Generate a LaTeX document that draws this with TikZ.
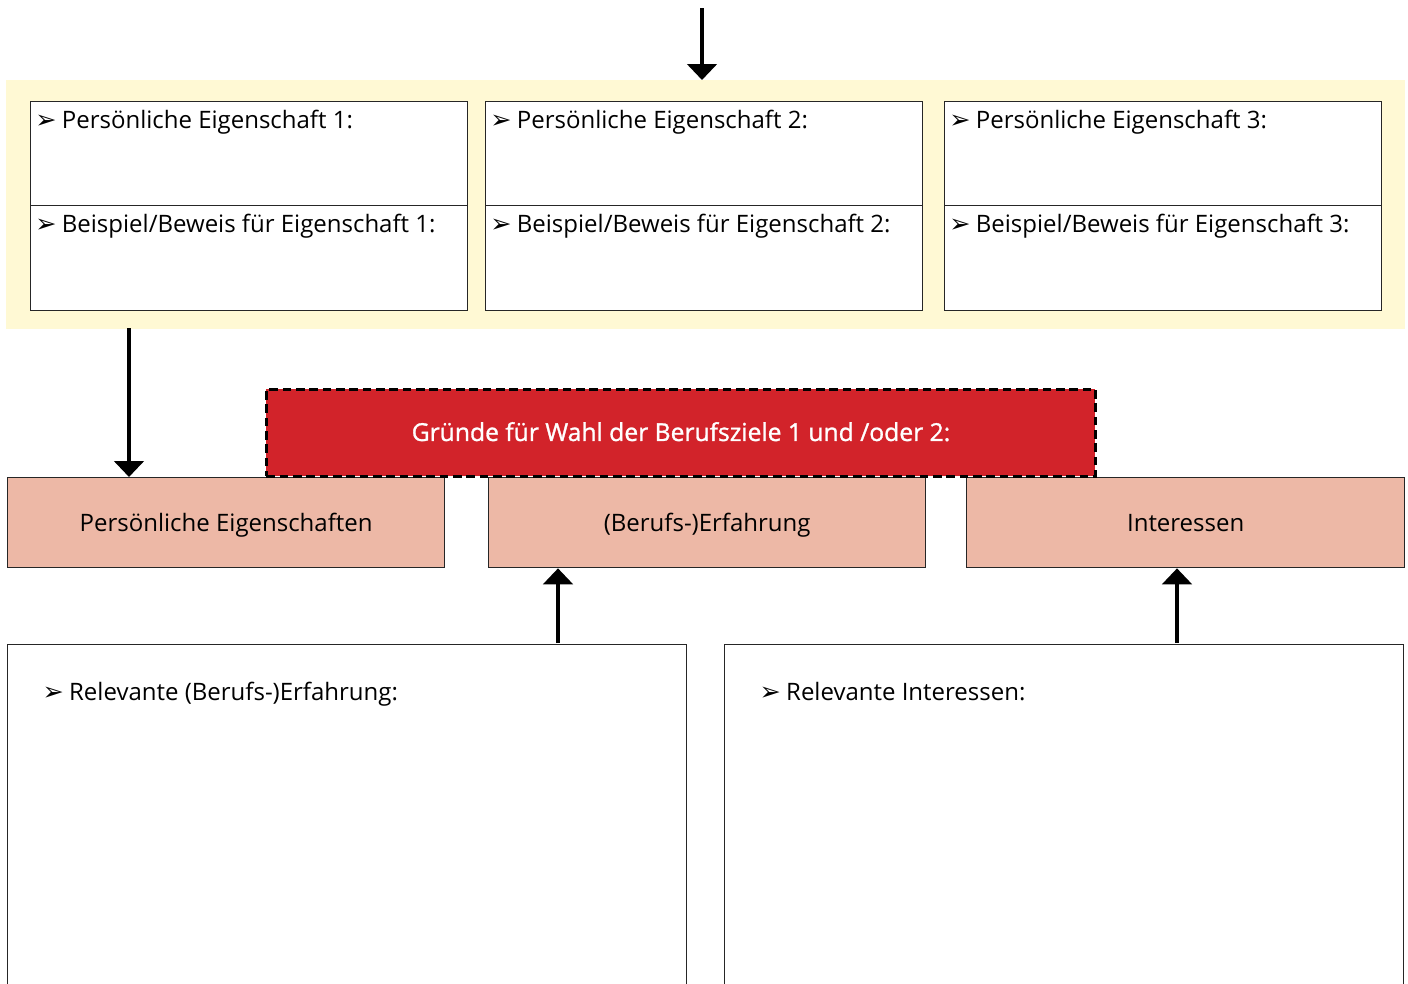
\documentclass[tikz,border=0pt]{standalone}
\usepackage{fontspec}
\setmainfont{Open Sans}
\newfontfamily\symfont{DejaVu Sans}
\newfontfamily\halbfett[FakeBold=1.2]{Open Sans}
\usetikzlibrary{arrows.meta,positioning}
\definecolor{hintergrund}{RGB}{255,249,212}
\definecolor{lachs}{RGB}{237,184,166}
\definecolor{rot}{RGB}{210,35,42}
\newcommand{\pfeilpunkt}{{\symfont\fontsize{19}{19}\selectfont ➢}\hspace{4pt}}
\def\px{0.75pt}

\begin{document}
\begin{tikzpicture}[x=0.75pt, y=-0.75pt,
    every node/.style={font=\fontsize{18}{21}\selectfont},
    feld/.style={draw=black!85, line width=1pt, fill=white, inner sep=0pt, anchor=north west},
    grund/.style={draw=black!85, line width=1pt, fill=lachs, anchor=north west,
      minimum width=437*\px, minimum height=90*\px, text height=17.5pt, text depth=4pt},
    eintrag/.style={anchor=north west, inner xsep=3.8pt, inner ysep=6.5pt},
    pfeil/.style={line width=3pt, -{Triangle[width=22pt,length=12pt]}}]
  \useasboundingbox (0,0) rectangle (1408,983);
  \clip (0,0) rectangle (1408,983);
  % Eigenschaften oben
  \node[fill=hintergrund, inner sep=0pt, anchor=north west,
    minimum width=1399*\px, minimum height=249*\px] (hg) at (6,80) {};
  \foreach \i/\x in {1/30,2/485,3/944} {
    \node[feld, minimum width=437*\px, minimum height=104*\px] (p\i) at (\x,101) {};
    \node[feld, minimum width=437*\px, minimum height=105*\px] (b\i) at (\x,205) {};
    \node[eintrag] at (p\i.north west) {\pfeilpunkt Persönliche Eigenschaft \i:};
    \node[eintrag] at (b\i.north west) {\pfeilpunkt Beispiel/Beweis für Eigenschaft \i:};
  }
  % Gruende
  \node[grund] (eig) at (7,477) {Persönliche Eigenschaften};
  \node[grund] (erf) at (488,477) {(Berufs-)Erfahrung};
  \node[grund, minimum width=438*\px] (int) at (966,477) {Interessen};
  \node[fill=rot, text=white, draw=black, line width=2.2pt, dash pattern=on 6.5pt off 3.5pt,
    font=\halbfett\fontsize{18.5}{22}\selectfont, text height=16pt, text depth=4pt,
    anchor=north west, minimum width=829*\px, minimum height=87*\px] (wahl) at (265,388)
    {Gründe für Wahl der Berufsziele 1 und /oder 2:};
  % Felder unten
  \node[feld, minimum width=679*\px, minimum height=360*\px] (erfbox) at (7,644) {};
  \node[feld, minimum width=679*\px, minimum height=360*\px] (intbox) at (724,644) {};
  \node[eintrag, inner xsep=26.5pt, inner ysep=28.5pt] at (erfbox.north west)
    {\pfeilpunkt Relevante (Berufs-)Erfahrung:};
  \node[eintrag, inner xsep=26.5pt, inner ysep=28.5pt] at (intbox.north west)
    {\pfeilpunkt Relevante Interessen:};
  % Pfeile
  \coordinate (oben) at (702,8);
  \coordinate (links) at (129,328);
  \coordinate (mitte) at (558,643);
  \coordinate (rechts) at (1177,643);
  \draw[pfeil] (oben) -- (oben |- hg.north);
  \draw[pfeil] (links) -- (links |- eig.north);
  \draw[pfeil] (mitte) -- (mitte |- erf.south);
  \draw[pfeil] (rechts) -- (rechts |- int.south);
\end{tikzpicture}
\end{document}
